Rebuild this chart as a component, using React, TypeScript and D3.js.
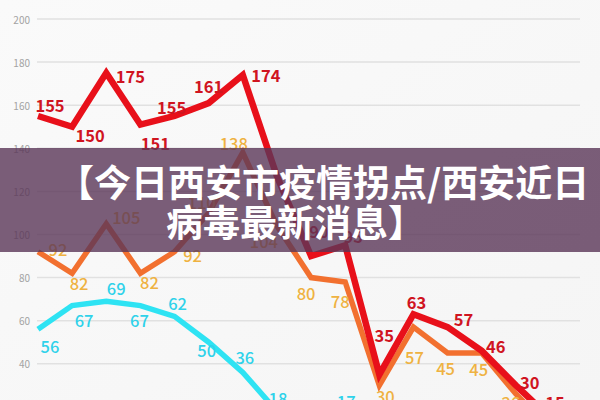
import React from 'react';
import * as d3 from 'd3';

// day slots along the x axis (no labels are shown in the picture)
const days = ['d1', 'd2', 'd3', 'd4', 'd5', 'd6', 'd7', 'd8', 'd9', 'd10', 'd11', 'd12', 'd13', 'd14', 'd15', 'd16'];

const redValues = [155, 150, 175, 151, 155, 161, 174, 127, 90, 95, 35, 63, 57, 46, 30, 15];
const orangeValues = [92, 82, 105, 82, 92, 110, 138, 104, 80, 78, 30, 57, 45, 45, 26, 10];
const cyanValues = [56, 67, 69, 67, 62, 50, 36, 18, 15, 17, 12, 14, 10, 9, 8, 6];

const yTicks = [40, 60, 80, 100, 120, 140, 160, 180, 200];

const titleLines = ['【今日西安市疫情拐点/西安近日', '病毒最新消息】'];

// where each value label sits relative to its point (null = no label)
const redLabelShift: ([number, number] | null)[] = [
  [12, -11], [18, 8], [24, 3], [15, 18], [-3, -9], [0, -17], [23, 0], null,
  [8, -25], [8, -9], [5, -40], [3, -12], [16, -8], [14, -5], [14, -3], [5, -16],
];
const orangeLabelShift: ([number, number] | null)[] = [
  [20, -3], [7, 10], [20, -7], [9, 9], [18, 3], [-7, -11], [-9, -10], [-13, 15],
  [-5, 15], [-5, 19], [6, 11], [1, 30], [-2, 15], [-3, 16], [-5, 8], [0, 12],
];
const cyanLabelShift: ([number, number] | null)[] = [
  [12, 17], [12, 14], [10, -13], [-1, 14], [3, -13], [-2, 8], [2, -15], [1, -13],
  [4, -12], [1, -12], [0, -12], [0, -12], [0, -12], [0, -12], [0, -12], [0, -12],
];

const W = 600;
const H = 400;
const FONT = '"Noto Sans CJK SC", "Noto Sans", sans-serif';

const x = d3.scalePoint<string>().domain(days).range([38, 550]);
const y = d3.scaleLinear().domain([0, 200]).range([450, 19]);

interface Series {
  key: string;
  values: number[];
  shift: ([number, number] | null)[];
  line: string;
  label: string;
  weight: number;
  width: number;
}

const series: Series[] = [
  { key: 'cyan', values: cyanValues, shift: cyanLabelShift, line: '#2ee3f3', label: '#2fd2ea', weight: 500, width: 5.5 },
  { key: 'orange', values: orangeValues, shift: orangeLabelShift, line: '#f2702f', label: '#efb241', weight: 500, width: 5.5 },
  { key: 'red', values: redValues, shift: redLabelShift, line: '#e8101a', label: '#d0141f', weight: 700, width: 6.5 },
];

const App: React.FC = () => {
  const lineGen = d3
    .line<number>()
    .x((_, i) => x(days[i]) as number)
    .y((d) => y(d));

  return (
    <div style={{ position: 'absolute', left: 0, top: 0 }}>
      <svg width={W} height={H} style={{ display: 'block' }}>
        <defs>
          <linearGradient id="bg" x1="0" y1="0" x2="1" y2="1">
            <stop offset="0" stopColor="#fafafa" />
            <stop offset="1" stopColor="#f5f5f5" />
          </linearGradient>
        </defs>
        <rect width={W} height={H} fill="url(#bg)" />

        {/* grid + y tick labels */}
        <g>
          {yTicks.map((t) => (
            <g key={t}>
              <line x1={37} x2={580} y1={y(t)} y2={y(t)} stroke="#e1e1e1" strokeWidth={1.5} />
              <text
                x={30}
                y={y(t)}
                textAnchor="end"
                dominantBaseline="central"
                fontSize={10}
                fill="#a3a3a3"
                fontFamily={FONT}
              >
                {t}
              </text>
            </g>
          ))}
        </g>

        {/* lines */}
        {series.map((s) => (
          <path
            key={s.key}
            d={lineGen(s.values) || ''}
            fill="none"
            stroke={s.line}
            strokeWidth={s.width}
            strokeLinejoin="miter"
          />
        ))}

        {/* value labels */}
        {series.map((s) => (
          <g key={s.key + '-lbl'}>
            {s.values.map((v, i) => {
              const sh = s.shift[i];
              if (!sh) return null;
              return (
                <text
                  key={i}
                  x={(x(days[i]) as number) + sh[0]}
                  y={y(v) + sh[1]}
                  textAnchor="middle"
                  dominantBaseline="central"
                  fontSize={16.5}
                  fontWeight={s.weight}
                  fill={s.label}
                  fontFamily={FONT}
                >
                  {v}
                </text>
              );
            })}
          </g>
        ))}

        {/* title band */}
        <rect x={0} y={148} width={W} height={104} fill="rgba(90,54,88,0.8)" />
        {titleLines.map((t, i) => (
          <text
            key={i}
            x={i === 0 ? 57 : 166}
            y={197 + i * 40}
            fontSize={37}
            fontWeight={700}
            fill="#ffffff"
            fontFamily={FONT}
          >
            {t}
          </text>
        ))}
      </svg>
    </div>
  );
};

export default App;
